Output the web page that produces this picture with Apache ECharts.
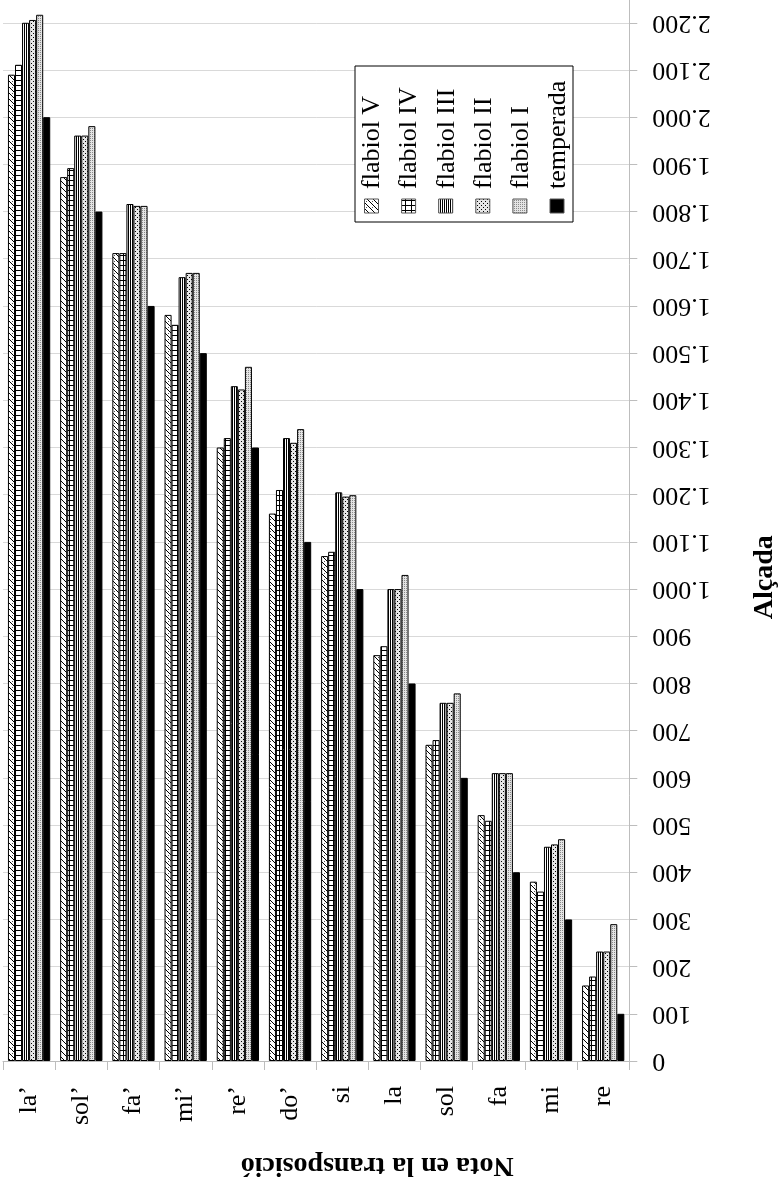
<!DOCTYPE html>
<html>
<head>
<meta charset="utf-8">
<script src="https://cdn.jsdelivr.net/npm/echarts@6/dist/echarts.min.js"></script>
<style>
html,body{margin:0;padding:0;background:#fff;}
#chart{width:780px;height:1181px;}
</style>
</head>
<body>
<div id="chart"></div>
<script>
const categories = ['la’','sol’','fa’','mi’','re’','do’','si','la','sol','fa','mi','re'];
const seriesNames = ['flabiol V','flabiol IV','flabiol III','flabiol II','flabiol I','temperada'];
const flabiolV   = [2090,1873,1712,1581,1300,1160,1070,860,670,521,380,160];
const flabiolIV  = [2111,1892,1712,1560,1320,1210,1079,879,680,509,359,179];
const flabiolIII = [2200,1961,1816,1661,1430,1320,1205,1000,759,610,454,232];
const flabiolII  = [2206,1961,1812,1670,1423,1310,1196,1000,759,610,459,232];
const flabiolI   = [2217,1981,1812,1670,1471,1339,1199,1030,779,610,470,290];
const temperada  = [2000,1800,1600,1500,1300,1100,1000,800,600,400,300,100];
const valueMin = 0, valueMax = 2300, valueStep = 100;
const xTitle = 'Nota en la transposició';
const yTitle = 'Alçada';

const seriesData = [flabiolV, flabiolIV, flabiolIII, flabiolII, flabiolI, temperada];

function makePattern(kind) {
  const c = document.createElement('canvas');
  let w = 6, h = 6;
  if (kind === 'vert') { w = 2; h = 2; }
  if (kind === 'fine') { w = 2; h = 2; }
  if (kind === 'dots') { w = 4; h = 4; }
  if (kind === 'grid') { w = 6; h = 5; }
  c.width = w; c.height = h;
  const g = c.getContext('2d');
  g.fillStyle = '#fff'; g.fillRect(0, 0, w, h);
  g.fillStyle = '#000';
  if (kind === 'diag') {
    for (let i = 0; i < 6; i++) { g.fillRect(i, i, 1, 1); }
    g.fillStyle = '#555';
    g.fillRect(0, 3, 1, 1);
  } else if (kind === 'grid') {
    g.fillRect(0, 0, 6, 1);
    g.fillRect(3, 0, 1, 5);
  } else if (kind === 'vert') {
    g.fillRect(0, 0, 1, 2);
  } else if (kind === 'dots') {
    g.fillStyle = '#e6e6e6'; g.fillRect(0, 0, 4, 4);
    g.fillStyle = '#000';
    g.fillRect(1, 1, 1, 1); g.fillRect(3, 3, 1, 1);
  } else if (kind === 'fine') {
    g.fillStyle = '#e4e4e4'; g.fillRect(0, 0, 2, 2);
    g.fillStyle = '#8a8a8a'; g.fillRect(0, 0, 1, 1);
  }
  return { image: c, repeat: 'repeat' };
}
const fills = [makePattern('diag'), makePattern('grid'), makePattern('vert'), makePattern('dots'), makePattern('fine'), '#000'];

const FONT = '"Liberation Serif", "DejaVu Serif", serif';
function fmt(v) { return String(v).replace(/\B(?=(\d{3})+(?!\d))/g, '.'); }

const chart = echarts.init(document.getElementById('chart'), null, { renderer: 'canvas' });

// legend drawn as graphic (rotated text)
const legendEls = [];
legendEls.push({
  type: 'rect', shape: { x: 355, y: 66, width: 218, height: 156 },
  style: { fill: '#fff', stroke: '#000', lineWidth: 1 }, z: 100
});
seriesNames.forEach(function (name, i) {
  const cx = 371.5 + i * 37.1;
  legendEls.push({
    type: 'rect', shape: { x: cx - 7, y: 199, width: 14, height: 14 },
    style: { fill: fills[i], stroke: '#555', lineWidth: 1 }, z: 101
  });
  legendEls.push({
    type: 'text', x: cx + 1, y: 189, rotation: Math.PI / 2,
    style: { text: name, fill: '#000', font: '26px ' + FONT, align: 'left', verticalAlign: 'middle' },
    z: 101
  });
});

chart.setOption({
  backgroundColor: '#fff',
  animation: false,
  textStyle: { fontFamily: FONT },
  grid: { left: 3, right: 150.7, top: -24.4, bottom: 120, containLabel: false, outerBoundsMode: 'none' },
  xAxis: {
    type: 'category',
    data: categories,
    position: 'bottom',
    axisLine: { show: true, lineStyle: { color: '#bdbdbd', width: 1 } },
    axisTick: { show: true, length: 9, lineStyle: { color: '#bdbdbd' } },
    axisLabel: { interval: 0, rotate: 90, margin: 25, color: '#000', fontSize: 26, fontFamily: FONT },
    splitLine: { show: false },
    name: xTitle,
    nameLocation: 'middle',
    nameRotate: 180,
    nameGap: 90,
    nameMoveOverlap: false,
    nameTextStyle: { color: '#000', fontSize: 28, fontWeight: 'bold', fontFamily: FONT, padding: [0, 122, 0, 0] }
  },
  yAxis: {
    type: 'value',
    position: 'right',
    min: valueMin, max: valueMax, interval: valueStep,
    axisLine: { show: true, lineStyle: { color: '#bdbdbd', width: 1 } },
    axisTick: { show: true, length: 8, lineStyle: { color: '#bdbdbd' } },
    axisLabel: { rotate: 180, margin: 23, align: 'right', verticalAlign: 'middle', color: '#000', fontSize: 26, fontFamily: FONT, formatter: fmt },
    splitLine: { show: true, lineStyle: { color: '#d9d9d9', width: 1 } },
    name: yTitle,
    nameLocation: 'middle',
    nameRotate: 90,
    nameGap: 121,
    nameMoveOverlap: false,
    nameTextStyle: { color: '#000', fontSize: 28, fontWeight: 'bold', fontFamily: FONT, padding: [0, 118, 0, 0] }
  },
  series: seriesNames.map(function (name, i) {
    return {
      name: name,
      type: 'bar',
      data: seriesData[i],
      barGap: '0%',
      barCategoryGap: '19%',
      itemStyle: { color: fills[i], borderColor: '#000', borderWidth: 1 },
      emphasis: { disabled: true }
    };
  }),
  graphic: legendEls
});
</script>
</body>
</html>
